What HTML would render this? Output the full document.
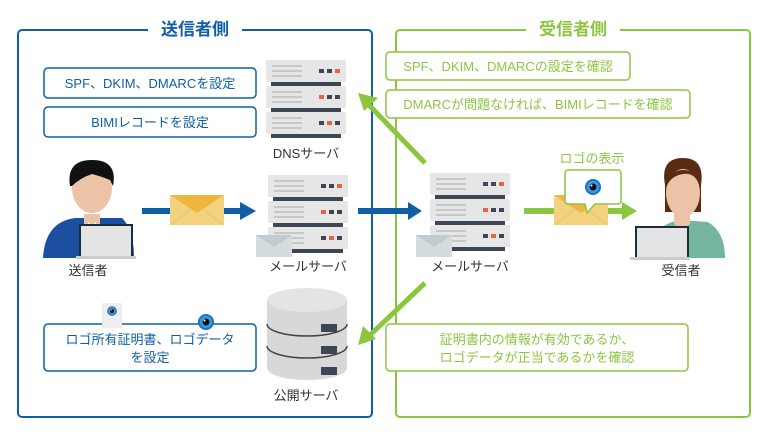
<!DOCTYPE html>
<html><head><meta charset="utf-8"><style>
body{margin:0;background:#fff;}
svg{display:block;font-family:"Liberation Sans","Noto Sans CJK JP",sans-serif;}
</style></head><body>
<svg width="768" height="432" viewBox="0 0 768 432">
<defs>
<g id="unit">
 <rect x="0" y="0" width="80" height="22" rx="2" fill="#e6e6e6"/>
 <g fill="#c8c8c8">
  <rect x="6" y="5" width="30" height="2"/><rect x="6" y="10" width="30" height="2"/><rect x="6" y="15" width="30" height="2"/>
 </g>
 <rect x="5" y="22" width="70" height="4" fill="#3c4655"/>
</g>
<g id="env">
 <rect x="0" y="0" width="54" height="30" fill="#f2d27e"/>
 <path d="M0 0 L27 18 L54 0 Z" fill="#f0b53c"/>
 <path d="M0 30 L22 14 M54 30 L32 14" stroke="#e8c26a" stroke-width="1"/>
</g>
<g id="eye">
 <circle r="8" fill="#1a72c4"/><circle r="6" fill="#3a9be0"/><circle r="3.5" fill="#111"/><circle cx="-1.5" cy="-1.5" r="1" fill="#fff"/>
</g>
</defs>

<!-- boxes -->
<rect x="18" y="30" width="354" height="387" rx="4" fill="none" stroke="#0f5fa8" stroke-width="2"/>
<rect x="148" y="18" width="94" height="22" fill="#fff"/>
<text x="195" y="35" font-size="17" font-weight="bold" fill="#0f5fa8" text-anchor="middle">送信者側</text>
<rect x="396" y="30" width="354" height="387" rx="4" fill="none" stroke="#8cc63f" stroke-width="2"/>
<rect x="526" y="18" width="94" height="22" fill="#fff"/>
<text x="573" y="35" font-size="17" font-weight="bold" fill="#8cc63f" text-anchor="middle">受信者側</text>

<!-- left text boxes -->
<g fill="#fff" stroke="#0f5fa8" stroke-width="1.5">
<rect x="44" y="68" width="212" height="30" rx="4"/>
<rect x="44" y="107" width="212" height="30" rx="4"/>
<rect x="44" y="324" width="212" height="47" rx="4"/>
</g>
<g fill="#0f5fa8" font-size="13" text-anchor="middle">
<text x="150" y="88">SPF、DKIM、DMARCを設定</text>
<text x="150" y="127">BIMIレコードを設定</text>
<text x="150" y="344">ロゴ所有証明書、ロゴデータ</text>
<text x="150" y="362">を設定</text>
</g>
<rect x="102" y="303" width="20" height="25" fill="#eee"/>
<use href="#eye" transform="translate(112,311) scale(0.6)"/>
<use href="#eye" transform="translate(206,322)"/>

<!-- right text boxes -->
<g fill="#fff" stroke="#8cc63f" stroke-width="1.5">
<rect x="386" y="52" width="244" height="28" rx="4"/>
<rect x="386" y="90" width="304" height="28" rx="4"/>
<rect x="386" y="324" width="302" height="47" rx="4"/>
</g>
<g fill="#8cc63f" font-size="13" text-anchor="middle">
<text x="508" y="71">SPF、DKIM、DMARCの設定を確認</text>
<text x="538" y="109">DMARCが問題なければ、BIMIレコードを確認</text>
<text x="537" y="344">証明書内の情報が有効であるか、</text>
<text x="537" y="362">ロゴデータが正当であるかを確認</text>
</g>

<!-- DNS server -->
<use href="#unit" x="266" y="60"/><use href="#unit" x="266" y="86"/><use href="#unit" x="266" y="112"/>
<g fill="#3c4655"><rect x="319" y="69" width="5" height="4"/><rect x="327" y="69" width="5" height="4"/><rect x="327" y="95" width="5" height="4"/><rect x="335" y="95" width="5" height="4"/><rect x="319" y="121" width="5" height="4"/><rect x="335" y="121" width="5" height="4"/></g>
<g fill="#e8643c"><rect x="335" y="69" width="5" height="4"/><rect x="319" y="95" width="5" height="4"/><rect x="327" y="121" width="5" height="4"/></g>
<text x="306" y="158" font-size="13" fill="#333" text-anchor="middle">DNSサーバ</text>

<!-- Left mail server -->
<use href="#unit" x="268" y="175"/><use href="#unit" x="268" y="201"/><use href="#unit" x="268" y="227"/>
<g fill="#3c4655"><rect x="321" y="184" width="5" height="4"/><rect x="329" y="184" width="5" height="4"/><rect x="329" y="210" width="5" height="4"/><rect x="337" y="210" width="5" height="4"/><rect x="321" y="236" width="5" height="4"/><rect x="337" y="236" width="5" height="4"/></g>
<g fill="#e8643c"><rect x="337" y="184" width="5" height="4"/><rect x="321" y="210" width="5" height="4"/><rect x="329" y="236" width="5" height="4"/></g>
<rect x="256" y="235" width="36" height="22" fill="#d5dcdf"/><path d="M256 235 L274 247 L292 235" fill="#c2cbcf"/>
<text x="308" y="271" font-size="13" fill="#333" text-anchor="middle">メールサーバ</text>

<!-- Right mail server -->
<use href="#unit" x="430" y="173"/><use href="#unit" x="430" y="199"/><use href="#unit" x="430" y="225"/>
<g fill="#3c4655"><rect x="483" y="182" width="5" height="4"/><rect x="491" y="182" width="5" height="4"/><rect x="491" y="208" width="5" height="4"/><rect x="499" y="208" width="5" height="4"/><rect x="483" y="234" width="5" height="4"/><rect x="499" y="234" width="5" height="4"/></g>
<g fill="#e8643c"><rect x="499" y="182" width="5" height="4"/><rect x="483" y="208" width="5" height="4"/><rect x="491" y="234" width="5" height="4"/></g>
<rect x="416" y="235" width="36" height="22" fill="#d5dcdf"/><path d="M416 235 L434 247 L452 235" fill="#c2cbcf"/>
<text x="470" y="271" font-size="13" fill="#333" text-anchor="middle">メールサーバ</text>

<!-- public server -->
<g>
<path d="M267 300 v68 a40 12 0 0 0 80 0 v-68 z" fill="#d8d8d8"/>
<ellipse cx="307" cy="300" rx="40" ry="12" fill="#e4e4e4"/>
<path d="M267 324 a40 12 0 0 0 80 0 M267 346 a40 12 0 0 0 80 0" fill="none" stroke="#444" stroke-width="1.5"/>
<g fill="#3c4655"><rect x="321" y="324" width="16" height="8"/><rect x="321" y="346" width="16" height="8"/><rect x="321" y="367" width="16" height="8"/></g>
</g>
<text x="306" y="400" font-size="13" fill="#333" text-anchor="middle">公開サーバ</text>

<!-- blue arrows -->
<g fill="#0f5fa8">
<rect x="142" y="208" width="100" height="6"/><path d="M240 202 L256 211 L240 220 Z"/>
<rect x="358" y="208" width="52" height="6"/><path d="M408 202 L422 211 L408 220 Z"/>
</g>
<use href="#env" x="170" y="195"/>

<!-- green arrows -->
<g fill="#8cc63f">
<rect x="524" y="208" width="100" height="6"/><path d="M622 202 L637 211 L622 220 Z"/>
</g>
<use href="#env" x="554" y="195"/>
<path d="M568 170 h50 a3 3 0 0 1 3 3 v28 a3 3 0 0 1 -3 3 h-23 l-8 9 l-2 -9 h-17 a3 3 0 0 1 -3 -3 v-28 a3 3 0 0 1 3 -3z" fill="#fff" stroke="#8cc63f" stroke-width="1.5"/>
<use href="#eye" transform="translate(593,187)"/>
<text x="592" y="163" font-size="13" fill="#8cc63f" text-anchor="middle">ロゴの表示</text>

<g stroke="#8cc63f" stroke-width="5">
<line x1="425" y1="163" x2="368" y2="104"/>
<line x1="425" y1="283" x2="368" y2="337"/>
</g>
<g fill="#8cc63f">
<path d="M358 93 L378 98 L364 111 Z"/>
<path d="M358 345 L363 326 L376 339 Z"/>
</g>

<!-- sender person -->
<g>
<path d="M43 258 Q45 222 75 218 L122 218 Q134 230 134 258 Z" fill="#1d4fa0"/>
<path d="M84 214 h16 v10 l-8 8 l-8 -8z" fill="#e9c4a8"/>
<path d="M88 222 l4 4 l4 -4 l-2 30 h-4z" fill="#fff"/>
<ellipse cx="92" cy="188" rx="20" ry="25" fill="#ecc3a7"/>
<path d="M70 186 Q66 160 92 160 Q118 160 113 186 L110 180 Q100 176 92 174 Q80 178 72 186z" fill="#111"/>
<rect x="80" y="225" width="52" height="33" fill="#e4e4e4" stroke="#1c2d3c" stroke-width="2"/>
<rect x="76" y="256" width="60" height="3" fill="#ccc"/>
</g>
<text x="88" y="275" font-size="13" fill="#333" text-anchor="middle">送信者</text>

<!-- receiver person -->
<g>
<path d="M650 258 Q650 225 680 220 L708 222 Q725 232 725 258 Z" fill="#74b69d"/>
<path d="M674 212 h16 v12 l-8 6 l-8 -6z" fill="#ecc3a7"/>
<path d="M665 185 Q660 158 683 158 Q705 158 701 185 L701 212 L665 212z" fill="#5a2a12"/>
<ellipse cx="683" cy="193" rx="17" ry="24" fill="#ecc3a7"/>
<path d="M666 188 Q668 170 683 170 Q700 170 700 188 Q696 172 683 174 Q670 176 666 188z" fill="#5a2a12"/>
<rect x="636" y="227" width="52" height="31" fill="#e4e4e4" stroke="#1c2d3c" stroke-width="2"/>
<rect x="630" y="257" width="60" height="3" fill="#ccc"/>
</g>
<text x="681" y="275" font-size="13" fill="#333" text-anchor="middle">受信者</text>
</svg>
</body></html>
